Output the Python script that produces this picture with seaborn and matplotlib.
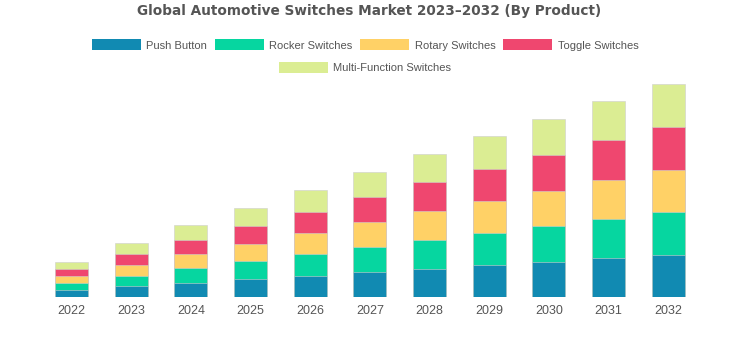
import numpy as np
import pandas as pd
import seaborn as sns
import matplotlib.pyplot as plt
from matplotlib.patches import Patch

# ===== data (arbitrary units) =====
years = ["2022", "2023", "2024", "2025", "2026", "2027", "2028", "2029", "2030", "2031", "2032"]
push_button = [7.0, 10.6, 14.2, 17.6, 21.0, 24.6, 28.2, 31.6, 34.7, 38.6, 41.7]
rocker = [7.0, 10.7, 14.3, 17.8, 21.4, 25.0, 28.5, 32.0, 35.6, 39.2, 43.0]
rotary = [7.0, 10.7, 14.3, 17.8, 21.6, 25.0, 28.6, 32.0, 35.4, 39.0, 42.0]
toggle = [7.0, 10.7, 14.3, 17.8, 21.0, 25.0, 28.6, 32.0, 35.3, 39.0, 42.6]
multi_function = [7.3, 10.8, 14.4, 17.9, 21.7, 25.0, 28.6, 32.2, 35.7, 39.2, 42.4]

series = ["Push Button", "Rocker Switches", "Rotary Switches", "Toggle Switches", "Multi-Function Switches"]
colors = ["#118ab2", "#06d6a0", "#ffd166", "#ef476f", "#dbed93"]

df = pd.DataFrame({
    "year": years,
    "Push Button": push_button,
    "Rocker Switches": rocker,
    "Rotary Switches": rotary,
    "Toggle Switches": toggle,
    "Multi-Function Switches": multi_function,
})

sns.set_theme(style="white")
plt.rcParams["font.family"] = ["Liberation Sans", "DejaVu Sans"]

fig = plt.figure(figsize=(7.45, 3.53), dpi=100)
ax = fig.add_axes([0.056, 0.1586, 0.881, 0.603])

# stacked bars: draw cumulative totals, biggest first
cum = df[series].cumsum(axis=1)
for name, col in reversed(list(zip(series, colors))):
    sns.barplot(x=df["year"], y=cum[name], color=col, width=0.55,
                saturation=1, edgecolor="#cfcfcf", linewidth=0.4, ax=ax)

ax.set_ylim(0, cum[series[-1]].max())
ax.set_xlim(-0.5, len(years) - 0.5)
ax.set_xlabel("")
ax.set_ylabel("")
ax.set_yticks([])
ax.tick_params(axis="x", length=0, labelsize=9, labelcolor="#555555", pad=6)
sns.despine(ax=ax, left=True, bottom=True)

fig.suptitle("Global Automotive Switches Market 2023\u20132032 (By Product)",
             x=0.496, y=0.99, fontsize=9.8, fontweight="bold", color="#555555",
             family=["DejaVu Sans"])

handles = [Patch(facecolor=c, edgecolor="none") for c in colors]
leg1 = fig.legend(handles[:4], series[:4], loc="center", ncol=4,
                  bbox_to_anchor=(0.49, 0.873), frameon=False, fontsize=8,
                  handlelength=4.4, handleheight=1.2, columnspacing=0.7,
                  handletextpad=0.5, labelcolor="#555555")
leg2 = fig.legend(handles[4:], series[4:], loc="center", ncol=1,
                  bbox_to_anchor=(0.49, 0.808), frameon=False, fontsize=8,
                  handlelength=4.4, handleheight=1.2,
                  handletextpad=0.5, labelcolor="#555555")

fig.savefig("out.png", dpi=100)
